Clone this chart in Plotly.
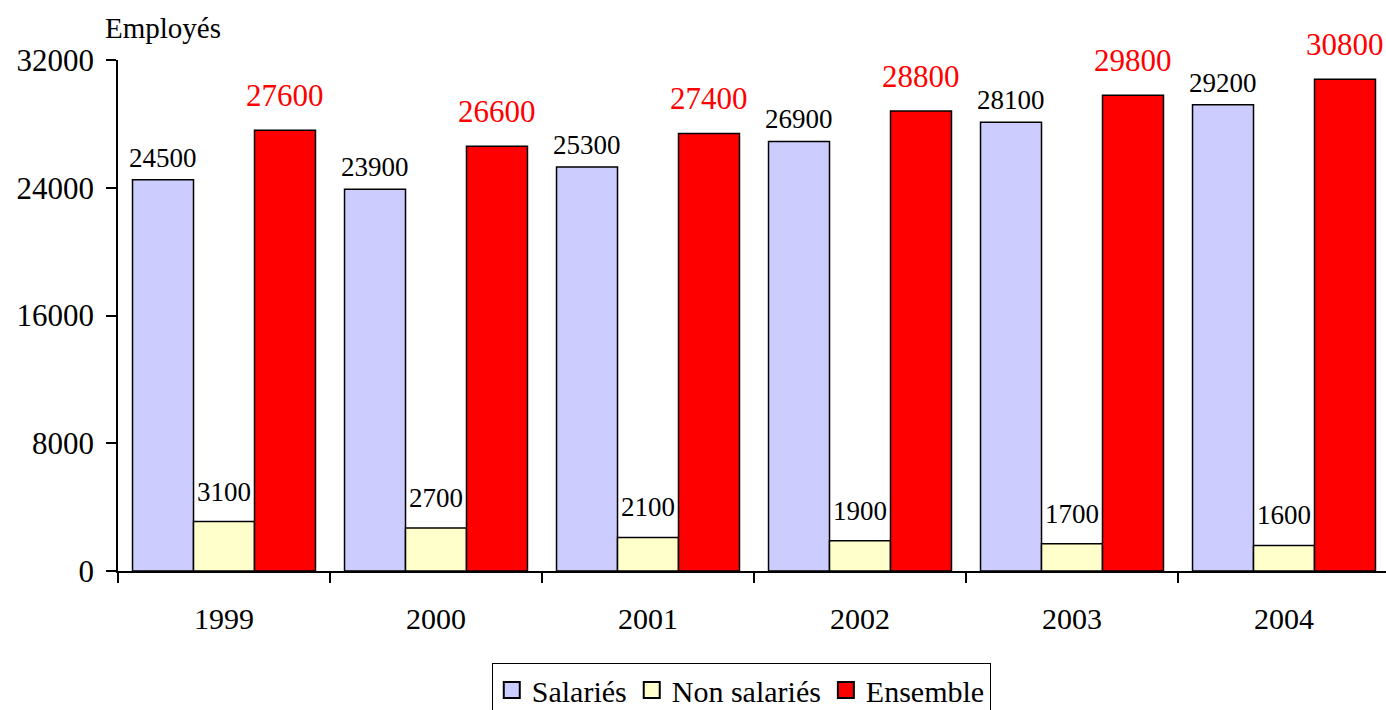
import plotly.graph_objects as go

years = ["1999", "2000", "2001", "2002", "2003", "2004"]
salaries = [24500, 23900, 25300, 26900, 28100, 29200]
non_salaries = [3100, 2700, 2100, 1900, 1700, 1600]
ensemble = [27600, 26600, 27400, 28800, 29800, 30800]
y_ticks = [0, 8000, 16000, 24000, 32000]

FONT = "Liberation Serif"

series = [
    ("Salariés", salaries, "#CCCCFF", "black", 27, -61, 5),
    ("Non salariés", non_salaries, "#FFFFCC", "black", 27, 0, 13),
    ("Ensemble", ensemble, "#FF0000", "#FF0000", 31, 61, 15),
]

fig = go.Figure()
annotations = []
for name, vals, color, tcolor, tsize, xs, ys in series:
    fig.add_trace(go.Bar(
        x=years, y=vals, name=name, legendgroup=name, showlegend=False,
        marker=dict(color=color, line=dict(color="black", width=1.5)),
    ))
    for i, v in enumerate(vals):
        annotations.append(dict(
            x=i, y=v, xref="x", yref="y", text=str(v), showarrow=False,
            xanchor="center", yanchor="bottom", xshift=xs, yshift=ys,
            font=dict(family=FONT, size=tsize, color=tcolor),
        ))

# legend entries with larger square swatches
for name, vals, color, *_ in series:
    fig.add_trace(go.Scatter(
        x=[None], y=[None], mode="markers", name=name, legendgroup=name,
        marker=dict(symbol="square", size=16, color=color,
                    line=dict(color="black", width=2)),
        hoverinfo="skip",
    ))

annotations.append(dict(
    text="Employés", xref="paper", yref="paper", x=-0.0115, y=1.063,
    xanchor="left", yanchor="middle", showarrow=False,
    font=dict(family=FONT, size=29, color="black"),
))

fig.update_layout(
    width=1390, height=710,
    margin=dict(l=118, r=0, t=60, b=139),
    paper_bgcolor="white", plot_bgcolor="white",
    barmode="group", bargap=0.137, bargroupgap=0,
    font=dict(family=FONT, size=29, color="black"),
    showlegend=True,
    legend=dict(
        orientation="h", xref="paper", x=0.49, xanchor="center",
        yref="container", y=(710 - 663) / 710, yanchor="top",
        bordercolor="black", borderwidth=1, bgcolor="white",
        font=dict(family=FONT, size=30, color="black"),
        itemsizing="trace",
    ),
    annotations=annotations,
)
fig.update_xaxes(
    type="category", categoryorder="array", categoryarray=years,
    range=[-0.5, len(years) - 0.5],
    showline=True, linecolor="black", linewidth=1.5,
    ticks="outside", tickson="boundaries", ticklen=10, tickcolor="black", tickwidth=1.5,
    tickfont=dict(family=FONT, size=30, color="black"),
    ticklabelstandoff=20, showgrid=False, zeroline=False,
)
fig.update_yaxes(
    range=[0, 32000], tickvals=y_ticks, ticktext=[str(v) for v in y_ticks],
    showline=True, linecolor="black", linewidth=1.5,
    ticks="outside", ticklen=10, tickcolor="black", tickwidth=1.5,
    tickfont=dict(family=FONT, size=31, color="black"),
    ticklabelstandoff=6, showgrid=False, zeroline=False,
)

fig.write_html(
    "out.html",
    config={"displayModeBar": False},
    post_script="document.body.style.margin='0';document.body.style.overflow='hidden';",
)
